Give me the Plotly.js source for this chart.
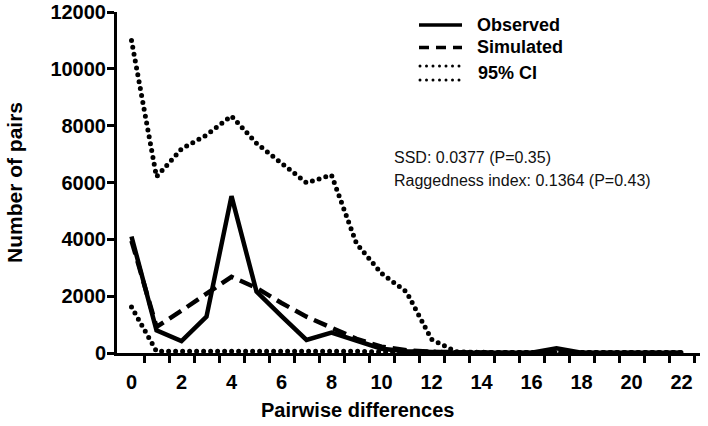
<!DOCTYPE html>
<html>
<head>
<meta charset="utf-8">
<script src="https://cdn.plot.ly/plotly-3.0.1.min.js"></script>
<style>
  body { margin: 0; background: #fff; }
  #graph { width: 708px; height: 426px; }
  /* round caps turn the CI dash pattern into dots */
  .scatterlayer .trace:nth-child(-n+2) path.js-line { stroke-linecap: round; }
  .shapelayer path[data-index="2"], .shapelayer path[data-index="3"] { stroke-linecap: round; }
</style>
</head>
<body>
<div id="graph"></div>
<script>
var diffs = [0,1,2,3,4,5,6,7,8,9,10,11,12,13,14,15,16,17,18,19,20,21,22];
var observed  = [4100, 800, 420, 1280, 5520, 2160, 1300, 460, 715, 430, 150, 60, 30, 10, 10, 10, 10, 170, 10, 5, 5, 5, 5];
var simulated = [3950, 920, 1490, 2080, 2680, 2290, 1760, 1280, 880, 500, 220, 100, 40, 15, 5, 0, 0, 0, 0, 0, 0, 0, 0];
var ciUpper   = [11000, 6200, 7180, 7670, 8340, 7380, 6680, 5990, 6260, 3850, 2800, 2150, 480, 40, 15, 15, 15, 15, 15, 15, 15, 15, 15];
var ciLower   = [1620, 60, 60, 60, 100, 60, 60, 60, 60, 60, 40, 30, 20, 15, 15, 15, 15, 15, 15, 15, 15, 15, 15];
var xLabelVals = [0,2,4,6,8,10,12,14,16,18,20,22];
var xTickVals = [0.5,1.5,2.5,3.5,4.5,5.5,6.5,7.5,8.5,9.5,10.5,11.5,12.5,13.5,14.5,15.5,16.5,17.5,18.5,19.5,20.5,21.5,22.5];
var yTickVals = [0,2000,4000,6000,8000,10000,12000];
var yTickText = ["0","2000","4000","6000","8000","10000","12000"];
var legendNames = ["Observed", "Simulated", "95% CI"];
var statsText = ["SSD: 0.0377 (P=0.35)", "Raggedness index: 0.1364 (P=0.43)"];

var FONT = "Liberation Sans, Arial, sans-serif";
var xr = [-0.58, 22.74];
var yr = [0, 12000];

var traces = [
  {x: diffs, y: ciUpper, mode: 'lines', line: {color: '#000', width: 5, dash: '0px,7px'}},
  {x: diffs, y: ciLower, mode: 'lines', line: {color: '#000', width: 5, dash: '0px,7px'}},
  {x: diffs, y: simulated, mode: 'lines', line: {color: '#000', width: 4.5, dash: '14px,7px'}},
  {x: diffs, y: observed, mode: 'lines', line: {color: '#000', width: 4.5}}
];

// plot area: left 117, right 700, top 12, bottom 353 (px)
function px(v) { return (v - 117) / 583; }
function py(v) { return (353 - v) / 341; }

var layout = {
  width: 708, height: 426,
  margin: {l: 117, r: 8, t: 12, b: 73},
  paper_bgcolor: '#fff', plot_bgcolor: '#fff',
  showlegend: false,
  font: {family: FONT, color: '#000'},
  xaxis: {
    range: xr, showgrid: false, zeroline: false,
    showline: true, linewidth: 3.3, linecolor: '#000',
    tickmode: 'array', tickvals: xTickVals, showticklabels: false,
    ticks: 'outside', ticklen: 7, tickwidth: 3, tickcolor: '#000'
  },
  xaxis2: {
    range: xr, overlaying: 'x', anchor: 'y', side: 'bottom',
    showgrid: false, zeroline: false, showline: false,
    tickmode: 'array', tickvals: xLabelVals,
    ticks: 'outside', ticklen: 11, tickcolor: 'rgba(0,0,0,0)',
    tickfont: {family: FONT, size: 20, weight: 'bold', color: '#000'}
  },
  yaxis: {
    range: yr, showgrid: false, zeroline: false,
    showline: true, linewidth: 3.3, linecolor: '#000',
    tickmode: 'array', tickvals: yTickVals, showticklabels: false,
    ticks: 'outside', ticklen: 7, tickwidth: 3, tickcolor: '#000'
  },
  yaxis2: {
    range: yr, overlaying: 'y', anchor: 'x', side: 'left',
    showgrid: false, zeroline: false, showline: false,
    tickmode: 'array', tickvals: yTickVals, ticktext: yTickText,
    ticks: 'outside', ticklen: 6, tickcolor: 'rgba(0,0,0,0)',
    tickfont: {family: FONT, size: 20, weight: 'bold', color: '#000'},
    title: {text: 'Number of pairs', standoff: 22, font: {family: FONT, size: 21, weight: 'bold', color: '#000'}}
  },
  shapes: [
    {type: 'line', xref: 'paper', yref: 'paper', x0: px(419), x1: px(462), y0: py(25), y1: py(25), line: {color: '#000', width: 3.5}},
    {type: 'line', xref: 'paper', yref: 'paper', x0: px(419), x1: px(462), y0: py(47.5), y1: py(47.5), line: {color: '#000', width: 3.5, dash: '10px,7px'}},
    {type: 'line', xref: 'paper', yref: 'paper', x0: px(420), x1: px(462), y0: py(66), y1: py(66), line: {color: '#000', width: 3, dash: '0px,6.5px'}},
    {type: 'line', xref: 'paper', yref: 'paper', x0: px(420), x1: px(462), y0: py(80), y1: py(80), line: {color: '#000', width: 3, dash: '0px,6.5px'}}
  ],
  annotations: [
    {xref: 'paper', yref: 'paper', x: px(475), y: py(25), xanchor: 'left', yanchor: 'middle', showarrow: false,
     text: legendNames[0], font: {family: FONT, size: 18, weight: 'bold', color: '#000'}},
    {xref: 'paper', yref: 'paper', x: px(475), y: py(47), xanchor: 'left', yanchor: 'middle', showarrow: false,
     text: legendNames[1], font: {family: FONT, size: 18, weight: 'bold', color: '#000'}},
    {xref: 'paper', yref: 'paper', x: px(476), y: py(73), xanchor: 'left', yanchor: 'middle', showarrow: false,
     text: legendNames[2], font: {family: FONT, size: 18, weight: 'bold', color: '#000'}},
    {xref: 'paper', yref: 'paper', x: px(392), y: py(158), xanchor: 'left', yanchor: 'middle', showarrow: false,
     text: statsText[0], font: {family: FONT, size: 16, color: '#111'}},
    {xref: 'paper', yref: 'paper', x: px(392), y: py(180), xanchor: 'left', yanchor: 'middle', showarrow: false,
     text: statsText[1], font: {family: FONT, size: 16, color: '#111'}},
    {xref: 'paper', yref: 'paper', x: px(357), y: py(410), xanchor: 'center', yanchor: 'middle', showarrow: false,
     text: 'Pairwise differences', font: {family: FONT, size: 20, weight: 'bold', color: '#000'}}
  ]
};

// hidden traces so the label axes get drawn
traces.push({x: [0], y: [0], xaxis: 'x2', mode: 'markers', marker: {opacity: 0}, hoverinfo: 'skip'});
traces.push({x: [0], y: [0], yaxis: 'y2', mode: 'markers', marker: {opacity: 0}, hoverinfo: 'skip'});

Plotly.newPlot('graph', traces, layout, {staticPlot: true});
</script>
</body>
</html>
